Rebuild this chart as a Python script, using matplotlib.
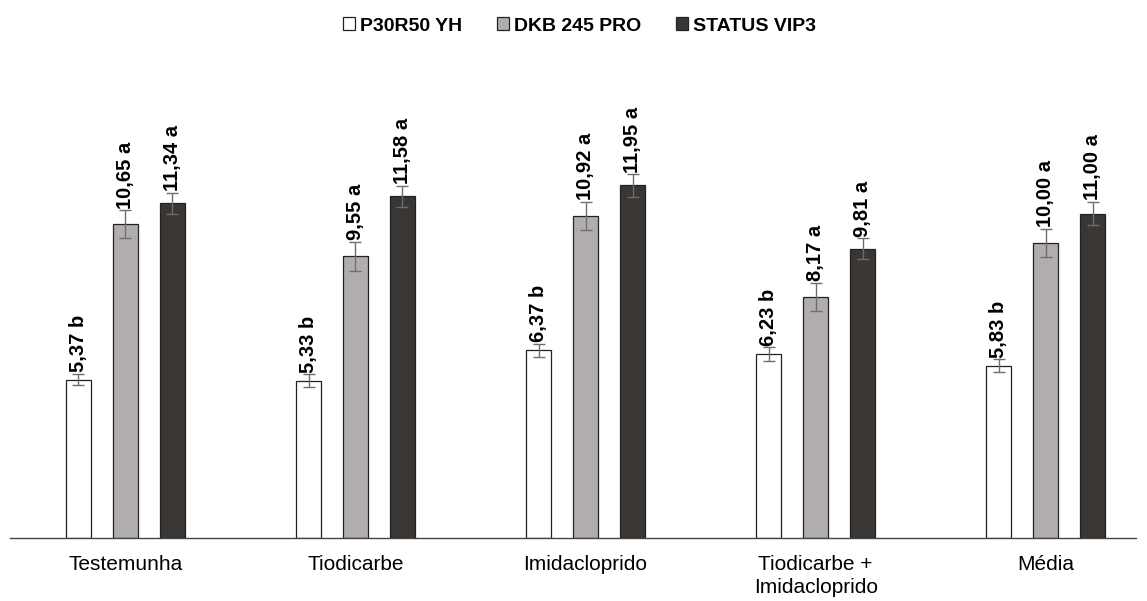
import matplotlib.pyplot as plt
import numpy as np

plt.rcParams['font.family'] = ['Liberation Sans', 'DejaVu Sans']

# data
categories = ['Testemunha', 'Tiodicarbe', 'Imidacloprido',
              'Tiodicarbe +\nImidacloprido', 'Média']
series = ['P30R50 YH', 'DKB 245 PRO', 'STATUS VIP3']
p30r50 = [5.37, 5.33, 6.37, 6.23, 5.83]
dkb245 = [10.65, 9.55, 10.92, 8.17, 10.00]
status = [11.34, 11.58, 11.95, 9.81, 11.00]
p30r50_err = [0.20, 0.22, 0.22, 0.23, 0.22]
dkb245_err = [0.47, 0.49, 0.48, 0.49, 0.48]
status_err = [0.37, 0.36, 0.38, 0.36, 0.40]
p30r50_let = ['b', 'b', 'b', 'b', 'b']
dkb245_let = ['a', 'a', 'a', 'a', 'a']
status_let = ['a', 'a', 'a', 'a', 'a']

colors = ['#ffffff', '#b0adac', '#393634']

fig = plt.figure(figsize=(11.47, 6.01), dpi=100)
ax = fig.add_axes([0.009, 0.105, 0.981, 0.79])

x = np.arange(len(categories))
width = 0.108
offset = 0.204
all_vals = [p30r50, dkb245, status]
all_err = [p30r50_err, dkb245_err, status_err]
all_let = [p30r50_let, dkb245_let, status_let]

for i, (vals, errs, lets) in enumerate(zip(all_vals, all_err, all_let)):
    pos = x + (i - 1) * offset
    ax.bar(pos, vals, width, color=colors[i], edgecolor='#222222',
           linewidth=0.9, label=series[i], zorder=2)
    ax.errorbar(pos, vals, yerr=errs, fmt='none', ecolor='#6e6e6e',
                elinewidth=1, capsize=4.5, capthick=1, zorder=3)
    # value labels
    for xp, v, e, l in zip(pos, vals, errs, lets):
        lbl = f'{v:.2f}'.replace('.', ',') + ' ' + l
        ax.annotate(lbl, (xp, v + e), xytext=(0, 1), textcoords='offset points',
                    rotation=90, ha='center', va='bottom', fontsize=14.5,
                    fontweight='bold', annotation_clip=False)

ax.set_ylim(0, 16.1)
ax.set_xlim(-0.5, 4.39)
ax.set_yticks([])
ax.set_xticks(x)
ax.set_xticklabels(categories, fontsize=15, linespacing=1.3)
ax.tick_params(axis='x', length=0, pad=12)
for s in ['top', 'right', 'left']:
    ax.spines[s].set_visible(False)
ax.spines['bottom'].set_color('#444444')
ax.spines['bottom'].set_linewidth(1)

fig.legend(loc='upper center', bbox_to_anchor=(0.505, 1.0), ncol=3,
           frameon=False, prop={'weight': 'bold', 'size': 14},
           handlelength=0.62, handleheight=0.62, handletextpad=0.25,
           columnspacing=1.8)

fig.savefig('out.png', dpi=100)
